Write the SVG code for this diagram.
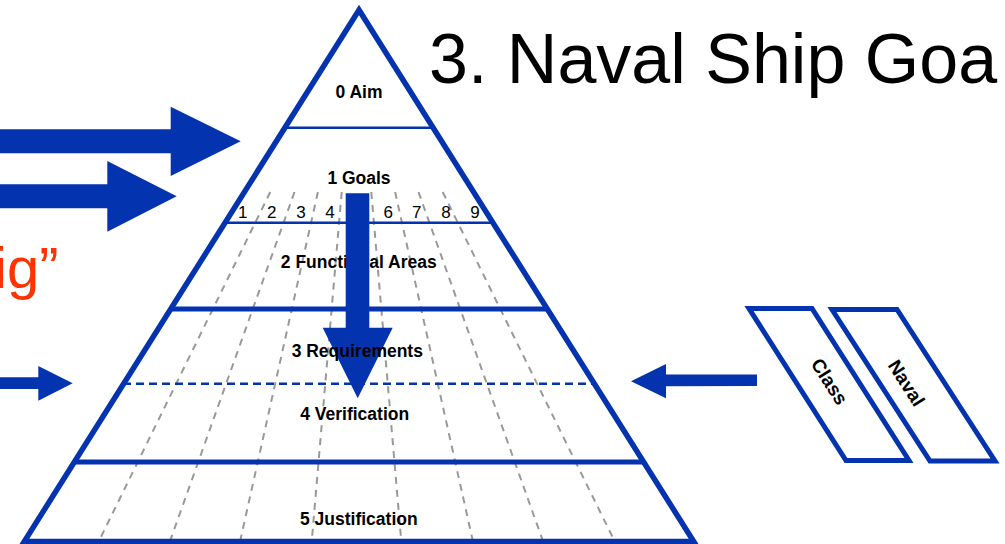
<svg xmlns="http://www.w3.org/2000/svg" width="1005" height="544" viewBox="0 0 1005 544">
  <style>
    .edge { stroke: #0433B0; fill: none; }
    .thin { stroke-width: 2.5; }
    .thick { stroke-width: 5; }
    .grid { stroke: #999999; stroke-width: 2; stroke-dasharray: 7 6; fill: none; }
    .arrow { fill: #0433B0; }
    .lbl { font-family: "Liberation Sans", Arial, sans-serif; font-weight: bold; font-size: 17.5px; fill: #000; text-anchor: middle; }
    .side { font-family: "Liberation Sans", Arial, sans-serif; font-weight: bold; font-size: 19px; fill: #000; text-anchor: middle; }
    .num { font-family: "Liberation Sans", Arial, sans-serif; font-size: 17px; fill: #000; text-anchor: middle; }
    .title { font-family: "Liberation Sans", Arial, sans-serif; font-size: 70px; fill: #000; }
    .orange { font-family: "Liberation Sans", Arial, sans-serif; font-size: 58px; fill: #FF3300; }
  </style>
  <rect width="1005" height="544" fill="#ffffff"/>

  <text class="title" x="429" y="83">3. Naval Ship Goa</text>
  <text class="orange" x="-6" y="288">ig”</text>

  <g id="grid">
    <line class="grid" x1="270.3" y1="192" x2="97.5" y2="544"/>
    <line class="grid" x1="294.5" y1="192" x2="169" y2="544"/>
    <line class="grid" x1="317.9" y1="192" x2="239.5" y2="544"/>
    <line class="grid" x1="341.7" y1="192" x2="311.5" y2="544"/>
    <line class="grid" x1="371.3" y1="192" x2="401.5" y2="544"/>
    <line class="grid" x1="395.1" y1="192" x2="473.5" y2="544"/>
    <line class="grid" x1="418.5" y1="192" x2="544" y2="544"/>
    <line class="grid" x1="442.7" y1="192" x2="616" y2="544"/>
  </g>

  <g id="pyramid">
    <polygon class="edge" stroke-width="5.5" stroke-linejoin="miter" points="359,10 24.3,541.5 693.7,541.5"/>
    <line class="edge thin" x1="284.3" y1="127.7" x2="433.7" y2="127.7"/>
    <line class="edge thin" x1="224.4" y1="222.7" x2="493.6" y2="222.7"/>
    <line class="edge thick" x1="170.1" y1="309" x2="547.9" y2="309"/>
    <line class="edge thin" stroke-dasharray="8 5" x1="123" y1="383.7" x2="595" y2="383.7"/>
    <line class="edge thick" x1="73.7" y1="462" x2="644.3" y2="462"/>
  </g>

  <g id="level0"><text class="lbl" x="359" y="98.3">0 Aim</text></g>
  <g id="level1">
    <text class="lbl" x="359" y="184">1 Goals</text>
    <text class="num" x="242.7" y="218.3">1</text>
    <text class="num" x="271.7" y="218.3">2</text>
    <text class="num" x="301" y="218.3">3</text>
    <text class="num" x="330" y="218.3">4</text>
    <text class="num" x="388.3" y="218.3">6</text>
    <text class="num" x="416.7" y="218.3">7</text>
    <text class="num" x="446" y="218.3">8</text>
    <text class="num" x="475" y="218.3">9</text>
  </g>
  <g id="level2"><text class="lbl" x="358.8" y="268.3">2 Functional Areas</text></g>

  <g id="connectors">
    <polygon class="arrow" points="-5,129.3 170.7,129.3 170.7,106.7 240.7,141.3 170.7,176 170.7,153.3 -5,153.3"/>
    <polygon class="arrow" points="-5,184.3 107.3,184.3 107.3,161 176.7,196.3 107.3,231.7 107.3,208.3 -5,208.3"/>
    <polygon class="arrow" points="-5,377.3 38.3,377.3 38.3,366 72.7,383.3 38.3,400.7 38.3,389 -5,389"/>
    <polygon class="arrow" points="757,374.5 666,374.5 666,364 631,381.3 666,398.3 666,386.3 757,386"/>
    <polygon class="arrow" points="345.7,193.3 369.3,193.3 369.3,327.7 392.7,327.7 357.7,398.3 322.7,327.7 345.7,327.7"/>
  </g>

  <g id="level3"><text class="lbl" x="357.3" y="356.7">3 Requirements</text></g>
  <g id="level4"><text class="lbl" x="354.7" y="420">4 Verification</text></g>
  <g id="level5"><text class="lbl" x="358.8" y="525">5 Justification</text></g>

  <g id="class-box">
    <polygon class="edge" stroke-width="5" points="749,308.5 812,308.5 909,460.5 846,460.5"/>
    <text class="side" transform="translate(829.5,381.5) rotate(57.3)" dy="0.35em">Class</text>
  </g>
  <g id="naval-box">
    <polygon class="edge" stroke-width="5" points="832,309.5 897,309.5 995,461 930,461"/>
    <text class="side" transform="translate(906.5,383) rotate(57.3)" dy="0.35em">Naval</text>
  </g>
</svg>
